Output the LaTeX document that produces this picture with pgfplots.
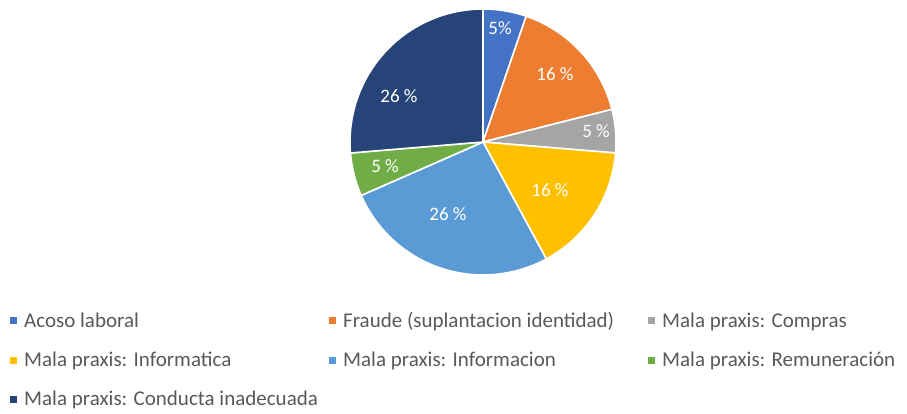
\documentclass[border=0pt]{standalone}
\usepackage{pgfplots}
\pgfplotsset{compat=1.18}
\usepackage{fontspec}
\setmainfont{Carlito}
\definecolor{cA}{HTML}{4472C4}
\definecolor{cB}{HTML}{ED7D31}
\definecolor{cC}{HTML}{A5A5A5}
\definecolor{cD}{HTML}{FFC000}
\definecolor{cE}{HTML}{5B9BD5}
\definecolor{cF}{HTML}{70AD47}
\definecolor{cG}{HTML}{264478}
\definecolor{legtext}{HTML}{595959}
% counts (percent labels are count/19)
\def\total{19}
\newcommand\slice[4]{% #1 cumulative count before, #2 count, #3 colour, #4 legend
  \pgfmathsetmacro\angA{90-#1*360/\total}%
  \pgfmathsetmacro\angB{90-(#1+#2)*360/\total}%
  \edef\temp{\noexpand\addplot[fill=#3, draw=white, line width=1.6pt, line join=round, domain=\angB:\angA, samples=60, variable=\noexpand\t]
    ({483+133*cos(\noexpand\t)},{272+133*sin(\noexpand\t)}) -- (axis cs:483,272) -- cycle;}%
  \temp
  \addlegendentry{\makebox[303pt][l]{#4}}%
}
\begin{document}
\begin{tikzpicture}
\path[use as bounding box] (0,0) rectangle (907pt,414pt);
\begin{axis}[
  x=1pt, y=1pt, xmin=0, xmax=907, ymin=0, ymax=414,
  scale only axis, hide axis, clip=false,
  legend columns=3,
  legend cell align=left,
  legend style={draw=none, fill=none, at={(axis cs:10,104)}, anchor=north west,
    font=\fontsize{21}{24}\selectfont, text=legtext,
    /tikz/every odd column/.append style={column sep=5pt},
    /tikz/every even column/.append style={column sep=0pt},
    row sep=19pt, inner sep=0pt},
  legend image code/.code={\path[#1, draw=none] (0pt,-3.5pt) rectangle (7pt,3.5pt);},
]
\slice{0}{1}{cA}{Acoso laboral}
\slice{1}{3}{cB}{Fraude (suplantacion identidad)}
\slice{4}{1}{cC}{Mala praxis: Compras}
\slice{5}{3}{cD}{Mala praxis: Informatica}
\slice{8}{5}{cE}{Mala praxis: Informacion}
\slice{13}{1}{cF}{Mala praxis: Remuneración}
\slice{14}{5}{cG}{Mala praxis: Conducta inadecuada}
\begin{scope}[every node/.style={text=white, font=\fontsize{19}{20}\selectfont}]
\node at (axis cs:500,386) {5\%};
\node at (axis cs:555,340) {16 \%};
\node at (axis cs:596,283) {5 \%};
\node at (axis cs:550,224) {16 \%};
\node at (axis cs:448,200) {26 \%};
\node at (axis cs:385,248) {5 \%};
\node at (axis cs:399,318) {26 \%};
\end{scope}
\end{axis}
\end{tikzpicture}
\end{document}
